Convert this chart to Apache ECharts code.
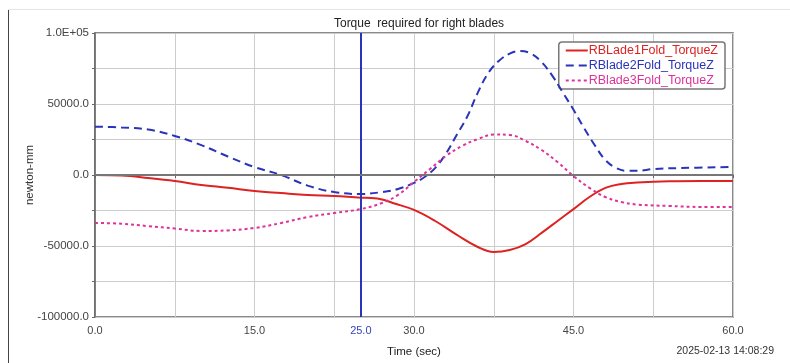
<!DOCTYPE html>
<html><head><meta charset="utf-8">
<script src="https://cdn.jsdelivr.net/npm/echarts@6/dist/echarts.min.js"></script>
<style>html,body{margin:0;padding:0;background:#fff}#c{width:790px;height:363px}</style>
</head><body><div id="c"></div>
<script>
const titleText = 'Torque  required for right blades';
const seriesNames = ['RBLade1Fold_TorqueZ', 'RBlade2Fold_TorqueZ', 'RBlade3Fold_TorqueZ'];
const xTickLabels = {0: '0.0', 15: '15.0', 30: '30.0', 45: '45.0', 60: '60.0'};
const yTickLabels = {'100000': '1.0E+05', '50000': '50000.0', '0': '0.0', '-50000': '-50000.0', '-100000': '-100000.0'};
const cursorTime = 25;
const stamp = '2025-02-13 14:08:29';

const blade1 = [[0,0],[2.5,-400],[5,-2100],[7.5,-4200],[10,-7000],[12.5,-9000],[15,-11300],[17.5,-12700],[20,-14000],[22.5,-14800],[25,-16000],[26,-16200],[27,-17200],[28,-19700],[30,-24600],[32,-32400],[34,-42000],[36,-50700],[37.5,-54200],[39,-52800],[40.5,-48600],[42,-40800],[43.5,-32400],[45,-24000],[46.5,-15500],[48,-9100],[49.5,-6300],[51,-5300],[54,-4400],[57,-4200],[60,-4200]];
const blade2 = [[0,34000],[2.5,33500],[5,32000],[7.5,27500],[10,21000],[12.5,13000],[15,5600],[17.5,0],[20,-7500],[22.5,-12000],[25,-13400],[27,-12000],[28.5,-9800],[30,-5600],[31,-1400],[32,5000],[33,15000],[34,28000],[35,41000],[36,58000],[37,72000],[38,80500],[39,85500],[40,87300],[41,85500],[42,79500],[43,70000],[44,58000],[45,46000],[46,33000],[47,21000],[48,10500],[49,5000],[50,3000],[51,3000],[52.5,4200],[55,4900],[60,5600]];
const blade3 = [[0,-33800],[2.5,-34300],[5,-36000],[7.5,-37700],[10,-39400],[12.5,-39000],[15,-37300],[17.5,-33800],[20,-29600],[22.5,-26800],[25,-24000],[27,-19700],[28.5,-14000],[30,-4900],[31.5,4200],[33,13400],[34.5,20400],[36,25300],[37.5,28500],[39,28200],[40.5,24000],[42,17600],[43.5,9100],[45,-700],[46.5,-9100],[48,-15500],[49.5,-19000],[51,-20800],[54,-21800],[57,-22500],[60,-22500]];

const colors = ['#dd2222', '#2a34b8', '#dd3399'];
const dashes = ['solid', [8, 5], [3, 3]];
const datasets = [blade1, blade2, blade3];
const FONT = 'Liberation Sans';

const chart = echarts.init(document.getElementById('c'));
const series = datasets.map((d, i) => ({
  name: seriesNames[i], type: 'line', data: d, smooth: 0.4, symbol: 'none',
  lineStyle: {color: colors[i], width: 2, type: dashes[i]},
  itemStyle: {color: colors[i]}, z: 3 + i
}));
series[0].markLine = {
  silent: true, symbol: 'none', animation: false,
  data: [
    {xAxis: cursorTime, lineStyle: {color: '#2a34b8', width: 2, type: 'solid'},
     label: {show: true, position: 'start', formatter: cursorTime.toFixed(1), color: '#3344bb', fontSize: 11, fontFamily: FONT, distance: 8}},
    {yAxis: 0, lineStyle: {color: '#777', width: 2, type: 'solid'}, label: {show: false}}
  ]
};
chart.setOption({
  animation: false,
  title: [
    {text: titleText, left: 414, top: 13, textAlign: 'center', textStyle: {fontSize: 12, fontWeight: 'normal', color: '#222', fontFamily: FONT}},
    {text: stamp, right: 11, top: 341, textStyle: {fontSize: 10.5, fontWeight: 'normal', color: '#333', fontFamily: FONT}}
  ],
  graphic: [
    {type: 'line', shape: {x1: 8.5, y1: 9, x2: 8.5, y2: 363}, style: {stroke: '#444', lineWidth: 1}},
    {type: 'line', shape: {x1: 8, y1: 9.5, x2: 790, y2: 9.5}, style: {stroke: '#e4e4e4', lineWidth: 1}}
  ],
  legend: {
    orient: 'vertical', right: 65, top: 42,
    padding: [2, 7, 2, 6], itemGap: 2, itemWidth: 22, itemHeight: 12,
    backgroundColor: '#fff', borderColor: '#777', borderWidth: 1.5, borderRadius: 3,
    itemStyle: {opacity: 0},
    textStyle: {fontSize: 12.5, fontFamily: FONT, padding: [0, 0, 0, -4]},
    data: seriesNames.map((n, i) => ({name: n, textStyle: {color: colors[i]}}))
  },
  grid: {left: 95, right: 57, top: 33, bottom: 44, show: true, borderColor: '#666', borderWidth: 1.5},
  xAxis: {
    type: 'value', min: 0, max: 60, interval: 7.5,
    name: 'Time (sec)', nameLocation: 'middle', nameGap: 29, nameMoveOverlap: false,
    nameTextStyle: {fontSize: 11.5, color: '#222', fontFamily: FONT},
    axisLine: {lineStyle: {color: '#666', width: 1.5}},
    axisTick: {show: true, length: 3, lineStyle: {color: '#666'}},
    axisLabel: {fontSize: 11, color: '#444', margin: 8, fontFamily: FONT, showMaxLabel: true,
      formatter: v => (xTickLabels[v] !== undefined ? xTickLabels[v] : '')},
    splitLine: {show: true, lineStyle: {color: '#ccc', width: 1}}
  },
  yAxis: {
    type: 'value', min: -100000, max: 100000, interval: 25000,
    name: 'newton-mm', nameLocation: 'middle', nameGap: 59, nameRotate: 90, nameMoveOverlap: false,
    nameTextStyle: {fontSize: 11.5, color: '#333', fontFamily: FONT},
    axisLine: {show: true, lineStyle: {color: '#666', width: 1.5}},
    axisTick: {show: true, length: 3, lineStyle: {color: '#666'}},
    axisLabel: {fontSize: 11.5, color: '#444', margin: 6, fontFamily: FONT,
      formatter: v => (yTickLabels[String(v)] !== undefined ? yTickLabels[String(v)] : '')},
    splitLine: {show: true, lineStyle: {color: '#ccc', width: 1}}
  },
  series: series
});
</script></body></html>
